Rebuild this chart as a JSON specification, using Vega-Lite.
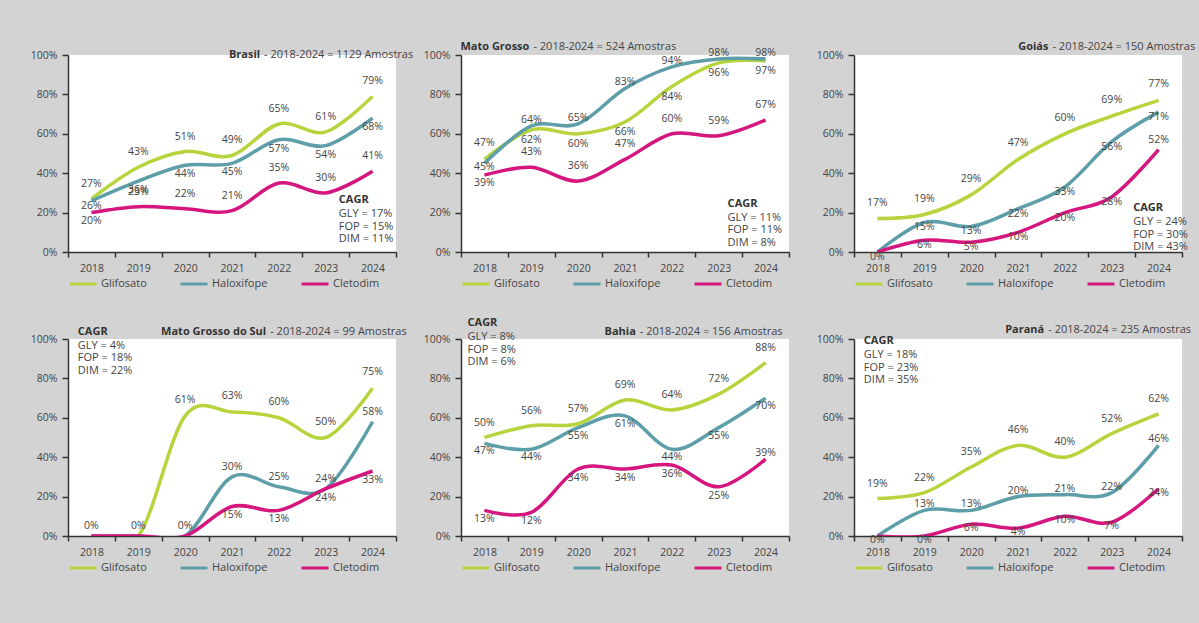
{
  "$schema": "https://vega.github.io/schema/vega-lite/v6.json",
  "background": "#d3d3d3",
  "padding": {"left": 30, "top": 41, "right": 5, "bottom": 50},
  "datasets": {
    "main": [
      {"r":"BR","s":"Glifosato","yr":"2018","v":0.27},{"r":"BR","s":"Glifosato","yr":"2019","v":0.43},{"r":"BR","s":"Glifosato","yr":"2020","v":0.51},{"r":"BR","s":"Glifosato","yr":"2021","v":0.49},{"r":"BR","s":"Glifosato","yr":"2022","v":0.65},{"r":"BR","s":"Glifosato","yr":"2023","v":0.61},{"r":"BR","s":"Glifosato","yr":"2024","v":0.79},
      {"r":"BR","s":"Haloxifope","yr":"2018","v":0.26},{"r":"BR","s":"Haloxifope","yr":"2019","v":0.36},{"r":"BR","s":"Haloxifope","yr":"2020","v":0.44},{"r":"BR","s":"Haloxifope","yr":"2021","v":0.45},{"r":"BR","s":"Haloxifope","yr":"2022","v":0.57},{"r":"BR","s":"Haloxifope","yr":"2023","v":0.54},{"r":"BR","s":"Haloxifope","yr":"2024","v":0.68},
      {"r":"BR","s":"Cletodim","yr":"2018","v":0.20},{"r":"BR","s":"Cletodim","yr":"2019","v":0.23},{"r":"BR","s":"Cletodim","yr":"2020","v":0.22},{"r":"BR","s":"Cletodim","yr":"2021","v":0.21},{"r":"BR","s":"Cletodim","yr":"2022","v":0.35},{"r":"BR","s":"Cletodim","yr":"2023","v":0.30},{"r":"BR","s":"Cletodim","yr":"2024","v":0.41},
      {"r":"MT","s":"Glifosato","yr":"2018","v":0.47},{"r":"MT","s":"Glifosato","yr":"2019","v":0.62},{"r":"MT","s":"Glifosato","yr":"2020","v":0.60},{"r":"MT","s":"Glifosato","yr":"2021","v":0.66},{"r":"MT","s":"Glifosato","yr":"2022","v":0.84},{"r":"MT","s":"Glifosato","yr":"2023","v":0.96},{"r":"MT","s":"Glifosato","yr":"2024","v":0.97},
      {"r":"MT","s":"Haloxifope","yr":"2018","v":0.45},{"r":"MT","s":"Haloxifope","yr":"2019","v":0.64},{"r":"MT","s":"Haloxifope","yr":"2020","v":0.65},{"r":"MT","s":"Haloxifope","yr":"2021","v":0.83},{"r":"MT","s":"Haloxifope","yr":"2022","v":0.94},{"r":"MT","s":"Haloxifope","yr":"2023","v":0.98},{"r":"MT","s":"Haloxifope","yr":"2024","v":0.98},
      {"r":"MT","s":"Cletodim","yr":"2018","v":0.39},{"r":"MT","s":"Cletodim","yr":"2019","v":0.43},{"r":"MT","s":"Cletodim","yr":"2020","v":0.36},{"r":"MT","s":"Cletodim","yr":"2021","v":0.47},{"r":"MT","s":"Cletodim","yr":"2022","v":0.60},{"r":"MT","s":"Cletodim","yr":"2023","v":0.59},{"r":"MT","s":"Cletodim","yr":"2024","v":0.67},
      {"r":"GO","s":"Glifosato","yr":"2018","v":0.17},{"r":"GO","s":"Glifosato","yr":"2019","v":0.19},{"r":"GO","s":"Glifosato","yr":"2020","v":0.29},{"r":"GO","s":"Glifosato","yr":"2021","v":0.47},{"r":"GO","s":"Glifosato","yr":"2022","v":0.60},{"r":"GO","s":"Glifosato","yr":"2023","v":0.69},{"r":"GO","s":"Glifosato","yr":"2024","v":0.77},
      {"r":"GO","s":"Haloxifope","yr":"2018","v":0.0},{"r":"GO","s":"Haloxifope","yr":"2019","v":0.15},{"r":"GO","s":"Haloxifope","yr":"2020","v":0.13},{"r":"GO","s":"Haloxifope","yr":"2021","v":0.22},{"r":"GO","s":"Haloxifope","yr":"2022","v":0.33},{"r":"GO","s":"Haloxifope","yr":"2023","v":0.56},{"r":"GO","s":"Haloxifope","yr":"2024","v":0.71},
      {"r":"GO","s":"Cletodim","yr":"2018","v":0.0},{"r":"GO","s":"Cletodim","yr":"2019","v":0.06},{"r":"GO","s":"Cletodim","yr":"2020","v":0.05},{"r":"GO","s":"Cletodim","yr":"2021","v":0.10},{"r":"GO","s":"Cletodim","yr":"2022","v":0.20},{"r":"GO","s":"Cletodim","yr":"2023","v":0.28},{"r":"GO","s":"Cletodim","yr":"2024","v":0.52},
      {"r":"MS","s":"Glifosato","yr":"2018","v":0.0},{"r":"MS","s":"Glifosato","yr":"2019","v":0.0},{"r":"MS","s":"Glifosato","yr":"2020","v":0.61},{"r":"MS","s":"Glifosato","yr":"2021","v":0.63},{"r":"MS","s":"Glifosato","yr":"2022","v":0.60},{"r":"MS","s":"Glifosato","yr":"2023","v":0.50},{"r":"MS","s":"Glifosato","yr":"2024","v":0.75},
      {"r":"MS","s":"Haloxifope","yr":"2018","v":0.0},{"r":"MS","s":"Haloxifope","yr":"2019","v":0.0},{"r":"MS","s":"Haloxifope","yr":"2020","v":0.0},{"r":"MS","s":"Haloxifope","yr":"2021","v":0.30},{"r":"MS","s":"Haloxifope","yr":"2022","v":0.25},{"r":"MS","s":"Haloxifope","yr":"2023","v":0.24},{"r":"MS","s":"Haloxifope","yr":"2024","v":0.58},
      {"r":"MS","s":"Cletodim","yr":"2018","v":0.0},{"r":"MS","s":"Cletodim","yr":"2019","v":0.0},{"r":"MS","s":"Cletodim","yr":"2020","v":0.0},{"r":"MS","s":"Cletodim","yr":"2021","v":0.15},{"r":"MS","s":"Cletodim","yr":"2022","v":0.13},{"r":"MS","s":"Cletodim","yr":"2023","v":0.24},{"r":"MS","s":"Cletodim","yr":"2024","v":0.33},
      {"r":"BA","s":"Glifosato","yr":"2018","v":0.50},{"r":"BA","s":"Glifosato","yr":"2019","v":0.56},{"r":"BA","s":"Glifosato","yr":"2020","v":0.57},{"r":"BA","s":"Glifosato","yr":"2021","v":0.69},{"r":"BA","s":"Glifosato","yr":"2022","v":0.64},{"r":"BA","s":"Glifosato","yr":"2023","v":0.72},{"r":"BA","s":"Glifosato","yr":"2024","v":0.88},
      {"r":"BA","s":"Haloxifope","yr":"2018","v":0.47},{"r":"BA","s":"Haloxifope","yr":"2019","v":0.44},{"r":"BA","s":"Haloxifope","yr":"2020","v":0.55},{"r":"BA","s":"Haloxifope","yr":"2021","v":0.61},{"r":"BA","s":"Haloxifope","yr":"2022","v":0.44},{"r":"BA","s":"Haloxifope","yr":"2023","v":0.55},{"r":"BA","s":"Haloxifope","yr":"2024","v":0.70},
      {"r":"BA","s":"Cletodim","yr":"2018","v":0.13},{"r":"BA","s":"Cletodim","yr":"2019","v":0.12},{"r":"BA","s":"Cletodim","yr":"2020","v":0.34},{"r":"BA","s":"Cletodim","yr":"2021","v":0.34},{"r":"BA","s":"Cletodim","yr":"2022","v":0.36},{"r":"BA","s":"Cletodim","yr":"2023","v":0.25},{"r":"BA","s":"Cletodim","yr":"2024","v":0.39},
      {"r":"PR","s":"Glifosato","yr":"2018","v":0.19},{"r":"PR","s":"Glifosato","yr":"2019","v":0.22},{"r":"PR","s":"Glifosato","yr":"2020","v":0.35},{"r":"PR","s":"Glifosato","yr":"2021","v":0.46},{"r":"PR","s":"Glifosato","yr":"2022","v":0.40},{"r":"PR","s":"Glifosato","yr":"2023","v":0.52},{"r":"PR","s":"Glifosato","yr":"2024","v":0.62},
      {"r":"PR","s":"Haloxifope","yr":"2018","v":0.0},{"r":"PR","s":"Haloxifope","yr":"2019","v":0.13},{"r":"PR","s":"Haloxifope","yr":"2020","v":0.13},{"r":"PR","s":"Haloxifope","yr":"2021","v":0.20},{"r":"PR","s":"Haloxifope","yr":"2022","v":0.21},{"r":"PR","s":"Haloxifope","yr":"2023","v":0.22},{"r":"PR","s":"Haloxifope","yr":"2024","v":0.46},
      {"r":"PR","s":"Cletodim","yr":"2018","v":0.0},{"r":"PR","s":"Cletodim","yr":"2019","v":0.0},{"r":"PR","s":"Cletodim","yr":"2020","v":0.06},{"r":"PR","s":"Cletodim","yr":"2021","v":0.04},{"r":"PR","s":"Cletodim","yr":"2022","v":0.10},{"r":"PR","s":"Cletodim","yr":"2023","v":0.07},{"r":"PR","s":"Cletodim","yr":"2024","v":0.24}
    ],
    "notes": [
      {"r":"BR","t":"Brasil","sub":"- 2018-2024 = 1129 Amostras","c":"GLY = 17%|FOP = 15%|DIM = 11%"},
      {"r":"MT","t":"Mato Grosso","sub":"- 2018-2024 = 524 Amostras","c":"GLY = 11%|FOP = 11%|DIM = 8%"},
      {"r":"GO","t":"Goiás","sub":"- 2018-2024 = 150 Amostras","c":"GLY = 24%|FOP = 30%|DIM = 43%"},
      {"r":"MS","t":"Mato Grosso do Sul","sub":"- 2018-2024 = 99 Amostras","c":"GLY = 4%|FOP = 18%|DIM = 22%"},
      {"r":"BA","t":"Bahia","sub":"- 2018-2024 = 156 Amostras","c":"GLY = 8%|FOP = 8%|DIM = 6%"},
      {"r":"PR","t":"Paraná","sub":"- 2018-2024 = 235 Amostras","c":"GLY = 18%|FOP = 23%|DIM = 35%"}
    ]
  },
  "columns": 3,
  "spacing": {"row": 87, "column": 65},
  "bounds": "flush",
  "resolve": {"scale": {"color": "independent"}, "legend": {"color": "independent"}},
  "concat": [
    {
      "width": 328, "height": 197,
      "data": {"name": "main"},
      "transform": [{"filter": "datum.r === 'BR'"}],
      "layer": [
        {"mark": {"type": "line", "interpolate": "cardinal", "strokeWidth": 3.5, "clip": true},
         "encoding": {
           "x": {"field": "yr", "type": "ordinal", "scale": {"type": "band", "paddingInner": 0, "paddingOuter": 0}, "axis": {"title": null, "tickBand": "extent"}},
           "y": {"field": "v", "type": "quantitative", "scale": {"domain": [0, 1]}, "axis": {"title": null, "format": ".0%", "values": [0, 0.2, 0.4, 0.6, 0.8, 1], "tickCount": 10, "labelOverlap": false}},
           "color": {"field": "s", "type": "nominal", "scale": {"domain": ["Glifosato", "Haloxifope", "Cletodim"], "range": ["#b6d43c", "#5d9ea8", "#d5167f"]}, "legend": {"orient": "bottom", "direction": "horizontal", "title": null}}}},
        {"mark": {"type": "text", "dy": {"expr": "datum.s === 'Glifosato' ? -15 : datum.s === 'Haloxifope' ? (datum.yr === '2018' ? 5 : 9) : (datum.yr === '2018' ? 8 : -15)"}},
         "encoding": {
           "x": {"field": "yr", "type": "ordinal"},
           "y": {"field": "v", "type": "quantitative"},
           "text": {"field": "v", "type": "quantitative", "format": ".0%"}}},
        {"data": {"name": "notes"}, "transform": [{"filter": "datum.r === 'BR'"}],
         "layer": [
           {"mark": {"type": "text", "align": "right", "fontWeight": "bold", "fontSize": 11, "color": "#333"},
            "encoding": {"x": {"datum": "2022", "type": "ordinal", "bandPosition": 0.1}, "y": {"datum": 1, "type": "quantitative"}, "text": {"field": "t"}}},
           {"mark": {"type": "text", "align": "left", "fontSize": 11, "color": "#444", "dx": 4},
            "encoding": {"x": {"datum": "2022", "type": "ordinal", "bandPosition": 0.1}, "y": {"datum": 1, "type": "quantitative"}, "text": {"field": "sub"}}},
           {"mark": {"type": "text", "align": "left", "fontWeight": "bold", "fontSize": 11, "color": "#333"},
            "encoding": {"x": {"datum": "2023", "type": "ordinal", "bandPosition": 0.78}, "y": {"datum": 0.263, "type": "quantitative"}, "text": {"value": "CAGR"}}},
           {"mark": {"type": "text", "align": "left", "baseline": "top", "fontSize": 11, "color": "#444", "lineBreak": "|", "lineHeight": 12.5, "dy": 8},
            "encoding": {"x": {"datum": "2023", "type": "ordinal", "bandPosition": 0.78}, "y": {"datum": 0.263, "type": "quantitative"}, "text": {"field": "c"}}}
         ]}
      ]
    },
    {
      "width": 328, "height": 197,
      "data": {"name": "main"},
      "transform": [{"filter": "datum.r === 'MT'"}],
      "layer": [
        {"mark": {"type": "line", "interpolate": "cardinal", "strokeWidth": 3.5, "clip": true},
         "encoding": {
           "x": {"field": "yr", "type": "ordinal", "scale": {"type": "band", "paddingInner": 0, "paddingOuter": 0}, "axis": {"title": null, "tickBand": "extent"}},
           "y": {"field": "v", "type": "quantitative", "scale": {"domain": [0, 1]}, "axis": {"title": null, "format": ".0%", "values": [0, 0.2, 0.4, 0.6, 0.8, 1], "tickCount": 10, "labelOverlap": false}},
           "color": {"field": "s", "type": "nominal", "scale": {"domain": ["Glifosato", "Haloxifope", "Cletodim"], "range": ["#b6d43c", "#5d9ea8", "#d5167f"]}, "legend": {"orient": "bottom", "direction": "horizontal", "title": null}}}},
        {"mark": {"type": "text", "dy": {"expr": "datum.s === 'Glifosato' ? (datum.yr === '2018' ? -16 : 10) : datum.s === 'Haloxifope' ? (datum.yr === '2018' ? 4 : -6) : (datum.yr === '2018' ? 8 : -15)"}},
         "encoding": {
           "x": {"field": "yr", "type": "ordinal"},
           "y": {"field": "v", "type": "quantitative"},
           "text": {"field": "v", "type": "quantitative", "format": ".0%"}}},
        {"data": {"name": "notes"}, "transform": [{"filter": "datum.r === 'MT'"}],
         "layer": [
           {"mark": {"type": "text", "align": "right", "fontWeight": "bold", "fontSize": 11, "color": "#333", "dy": -8},
            "encoding": {"x": {"datum": "2019", "type": "ordinal", "bandPosition": 0.46}, "y": {"datum": 1, "type": "quantitative"}, "text": {"field": "t"}}},
           {"mark": {"type": "text", "align": "left", "fontSize": 11, "color": "#444", "dx": 4, "dy": -8},
            "encoding": {"x": {"datum": "2019", "type": "ordinal", "bandPosition": 0.46}, "y": {"datum": 1, "type": "quantitative"}, "text": {"field": "sub"}}},
           {"mark": {"type": "text", "align": "left", "fontWeight": "bold", "fontSize": 11, "color": "#333"},
            "encoding": {"x": {"datum": "2023", "type": "ordinal", "bandPosition": 0.69}, "y": {"datum": 0.245, "type": "quantitative"}, "text": {"value": "CAGR"}}},
           {"mark": {"type": "text", "align": "left", "baseline": "top", "fontSize": 11, "color": "#444", "lineBreak": "|", "lineHeight": 12.5, "dy": 8},
            "encoding": {"x": {"datum": "2023", "type": "ordinal", "bandPosition": 0.69}, "y": {"datum": 0.245, "type": "quantitative"}, "text": {"field": "c"}}}
         ]}
      ]
    },
    {
      "width": 328, "height": 197,
      "data": {"name": "main"},
      "transform": [{"filter": "datum.r === 'GO'"}],
      "layer": [
        {"mark": {"type": "line", "interpolate": "cardinal", "strokeWidth": 3.5, "clip": true},
         "encoding": {
           "x": {"field": "yr", "type": "ordinal", "scale": {"type": "band", "paddingInner": 0, "paddingOuter": 0}, "axis": {"title": null, "tickBand": "extent"}},
           "y": {"field": "v", "type": "quantitative", "scale": {"domain": [0, 1]}, "axis": {"title": null, "format": ".0%", "values": [0, 0.2, 0.4, 0.6, 0.8, 1], "tickCount": 10, "labelOverlap": false}},
           "color": {"field": "s", "type": "nominal", "scale": {"domain": ["Glifosato", "Haloxifope", "Cletodim"], "range": ["#b6d43c", "#5d9ea8", "#d5167f"]}, "legend": {"orient": "bottom", "direction": "horizontal", "title": null}}}},
        {"transform": [{"filter": "!(datum.s === 'Haloxifope' && datum.v === 0)"}],
         "mark": {"type": "text", "dy": {"expr": "datum.s === 'Glifosato' ? -16 : datum.s === 'Haloxifope' ? 5 : (datum.yr === '2024' ? -10 : 5)"}},
         "encoding": {
           "x": {"field": "yr", "type": "ordinal"},
           "y": {"field": "v", "type": "quantitative"},
           "text": {"field": "v", "type": "quantitative", "format": ".0%"}}},
        {"data": {"name": "notes"}, "transform": [{"filter": "datum.r === 'GO'"}],
         "layer": [
           {"mark": {"type": "text", "align": "right", "fontWeight": "bold", "fontSize": 11, "color": "#333", "dy": -8},
            "encoding": {"x": {"datum": "2022", "type": "ordinal", "bandPosition": 0.15}, "y": {"datum": 1, "type": "quantitative"}, "text": {"field": "t"}}},
           {"mark": {"type": "text", "align": "left", "fontSize": 11, "color": "#444", "dx": 4, "dy": -8},
            "encoding": {"x": {"datum": "2022", "type": "ordinal", "bandPosition": 0.15}, "y": {"datum": 1, "type": "quantitative"}, "text": {"field": "sub"}}},
           {"mark": {"type": "text", "align": "left", "fontWeight": "bold", "fontSize": 11, "color": "#333"},
            "encoding": {"x": {"datum": "2023", "type": "ordinal", "bandPosition": 0.96}, "y": {"datum": 0.223, "type": "quantitative"}, "text": {"value": "CAGR"}}},
           {"mark": {"type": "text", "align": "left", "baseline": "top", "fontSize": 11, "color": "#444", "lineBreak": "|", "lineHeight": 12.5, "dy": 8},
            "encoding": {"x": {"datum": "2023", "type": "ordinal", "bandPosition": 0.96}, "y": {"datum": 0.223, "type": "quantitative"}, "text": {"field": "c"}}}
         ]}
      ]
    },
    {
      "width": 328, "height": 197,
      "data": {"name": "main"},
      "transform": [{"filter": "datum.r === 'MS'"}],
      "layer": [
        {"mark": {"type": "line", "interpolate": "cardinal", "strokeWidth": 3.5, "clip": true},
         "encoding": {
           "x": {"field": "yr", "type": "ordinal", "scale": {"type": "band", "paddingInner": 0, "paddingOuter": 0}, "axis": {"title": null, "tickBand": "extent"}},
           "y": {"field": "v", "type": "quantitative", "scale": {"domain": [0, 1]}, "axis": {"title": null, "format": ".0%", "values": [0, 0.2, 0.4, 0.6, 0.8, 1], "tickCount": 10, "labelOverlap": false}},
           "color": {"field": "s", "type": "nominal", "scale": {"domain": ["Glifosato", "Haloxifope", "Cletodim"], "range": ["#b6d43c", "#5d9ea8", "#d5167f"]}, "legend": {"orient": "bottom", "direction": "horizontal", "title": null}}}},
        {"transform": [{"filter": "!(datum.v === 0 && datum.s !== 'Haloxifope')"}],
         "mark": {"type": "text", "dy": {"expr": "datum.s === 'Glifosato' ? -16 : datum.s === 'Haloxifope' ? -10 : 9"}},
         "encoding": {
           "x": {"field": "yr", "type": "ordinal"},
           "y": {"field": "v", "type": "quantitative"},
           "text": {"field": "v", "type": "quantitative", "format": ".0%"}}},
        {"data": {"name": "notes"}, "transform": [{"filter": "datum.r === 'MS'"}],
         "layer": [
           {"mark": {"type": "text", "align": "right", "fontWeight": "bold", "fontSize": 11, "color": "#333", "dy": -7},
            "encoding": {"x": {"datum": "2022", "type": "ordinal", "bandPosition": 0.23}, "y": {"datum": 1, "type": "quantitative"}, "text": {"field": "t"}}},
           {"mark": {"type": "text", "align": "left", "fontSize": 11, "color": "#444", "dx": 4, "dy": -7},
            "encoding": {"x": {"datum": "2022", "type": "ordinal", "bandPosition": 0.23}, "y": {"datum": 1, "type": "quantitative"}, "text": {"field": "sub"}}},
           {"mark": {"type": "text", "align": "left", "fontWeight": "bold", "fontSize": 11, "color": "#333"},
            "encoding": {"x": {"datum": "2018", "type": "ordinal", "bandPosition": 0.21}, "y": {"datum": 1.038, "type": "quantitative"}, "text": {"value": "CAGR"}}},
           {"mark": {"type": "text", "align": "left", "baseline": "top", "fontSize": 11, "color": "#444", "lineBreak": "|", "lineHeight": 12.5, "dy": 8},
            "encoding": {"x": {"datum": "2018", "type": "ordinal", "bandPosition": 0.21}, "y": {"datum": 1.038, "type": "quantitative"}, "text": {"field": "c"}}}
         ]}
      ]
    },
    {
      "width": 328, "height": 197,
      "data": {"name": "main"},
      "transform": [{"filter": "datum.r === 'BA'"}],
      "layer": [
        {"mark": {"type": "line", "interpolate": "cardinal", "strokeWidth": 3.5, "clip": true},
         "encoding": {
           "x": {"field": "yr", "type": "ordinal", "scale": {"type": "band", "paddingInner": 0, "paddingOuter": 0}, "axis": {"title": null, "tickBand": "extent"}},
           "y": {"field": "v", "type": "quantitative", "scale": {"domain": [0, 1]}, "axis": {"title": null, "format": ".0%", "values": [0, 0.2, 0.4, 0.6, 0.8, 1], "tickCount": 10, "labelOverlap": false}},
           "color": {"field": "s", "type": "nominal", "scale": {"domain": ["Glifosato", "Haloxifope", "Cletodim"], "range": ["#b6d43c", "#5d9ea8", "#d5167f"]}, "legend": {"orient": "bottom", "direction": "horizontal", "title": null}}}},
        {"mark": {"type": "text", "dy": {"expr": "datum.s === 'Glifosato' ? -15 : datum.s === 'Haloxifope' ? 8 : (datum.yr === '2024' ? -6 : 9)"}},
         "encoding": {
           "x": {"field": "yr", "type": "ordinal"},
           "y": {"field": "v", "type": "quantitative"},
           "text": {"field": "v", "type": "quantitative", "format": ".0%"}}},
        {"data": {"name": "notes"}, "transform": [{"filter": "datum.r === 'BA'"}],
         "layer": [
           {"mark": {"type": "text", "align": "right", "fontWeight": "bold", "fontSize": 11, "color": "#333", "dy": -7},
            "encoding": {"x": {"datum": "2021", "type": "ordinal", "bandPosition": 0.73}, "y": {"datum": 1, "type": "quantitative"}, "text": {"field": "t"}}},
           {"mark": {"type": "text", "align": "left", "fontSize": 11, "color": "#444", "dx": 4, "dy": -7},
            "encoding": {"x": {"datum": "2021", "type": "ordinal", "bandPosition": 0.73}, "y": {"datum": 1, "type": "quantitative"}, "text": {"field": "sub"}}},
           {"mark": {"type": "text", "align": "left", "fontWeight": "bold", "fontSize": 11, "color": "#333"},
            "encoding": {"x": {"datum": "2018", "type": "ordinal", "bandPosition": 0.14}, "y": {"datum": 1.081, "type": "quantitative"}, "text": {"value": "CAGR"}}},
           {"mark": {"type": "text", "align": "left", "baseline": "top", "fontSize": 11, "color": "#444", "lineBreak": "|", "lineHeight": 12.5, "dy": 8},
            "encoding": {"x": {"datum": "2018", "type": "ordinal", "bandPosition": 0.14}, "y": {"datum": 1.081, "type": "quantitative"}, "text": {"field": "c"}}}
         ]}
      ]
    },
    {
      "width": 328, "height": 197,
      "data": {"name": "main"},
      "transform": [{"filter": "datum.r === 'PR'"}],
      "layer": [
        {"mark": {"type": "line", "interpolate": "cardinal", "strokeWidth": 3.5, "clip": true},
         "encoding": {
           "x": {"field": "yr", "type": "ordinal", "scale": {"type": "band", "paddingInner": 0, "paddingOuter": 0}, "axis": {"title": null, "tickBand": "extent"}},
           "y": {"field": "v", "type": "quantitative", "scale": {"domain": [0, 1]}, "axis": {"title": null, "format": ".0%", "values": [0, 0.2, 0.4, 0.6, 0.8, 1], "tickCount": 10, "labelOverlap": false}},
           "color": {"field": "s", "type": "nominal", "scale": {"domain": ["Glifosato", "Haloxifope", "Cletodim"], "range": ["#b6d43c", "#5d9ea8", "#d5167f"]}, "legend": {"orient": "bottom", "direction": "horizontal", "title": null}}}},
        {"transform": [{"filter": "!(datum.v === 0 && datum.s === 'Haloxifope')"}],
         "mark": {"type": "text", "dy": {"expr": "datum.s === 'Glifosato' ? -15 : datum.s === 'Haloxifope' ? -6 : 4"}},
         "encoding": {
           "x": {"field": "yr", "type": "ordinal"},
           "y": {"field": "v", "type": "quantitative"},
           "text": {"field": "v", "type": "quantitative", "format": ".0%"}}},
        {"data": {"name": "notes"}, "transform": [{"filter": "datum.r === 'PR'"}],
         "layer": [
           {"mark": {"type": "text", "align": "right", "fontWeight": "bold", "fontSize": 11, "color": "#333", "dy": -9},
            "encoding": {"x": {"datum": "2022", "type": "ordinal", "bandPosition": 0.06}, "y": {"datum": 1, "type": "quantitative"}, "text": {"field": "t"}}},
           {"mark": {"type": "text", "align": "left", "fontSize": 11, "color": "#444", "dx": 4, "dy": -9},
            "encoding": {"x": {"datum": "2022", "type": "ordinal", "bandPosition": 0.06}, "y": {"datum": 1, "type": "quantitative"}, "text": {"field": "sub"}}},
           {"mark": {"type": "text", "align": "left", "fontWeight": "bold", "fontSize": 11, "color": "#333"},
            "encoding": {"x": {"datum": "2018", "type": "ordinal", "bandPosition": 0.21}, "y": {"datum": 0.988, "type": "quantitative"}, "text": {"value": "CAGR"}}},
           {"mark": {"type": "text", "align": "left", "baseline": "top", "fontSize": 11, "color": "#444", "lineBreak": "|", "lineHeight": 12.5, "dy": 8},
            "encoding": {"x": {"datum": "2018", "type": "ordinal", "bandPosition": 0.21}, "y": {"datum": 0.988, "type": "quantitative"}, "text": {"field": "c"}}}
         ]}
      ]
    }
  ],
  "config": {
    "font": "Open Sans",
    "view": {"fill": "white", "stroke": null},
    "text": {"fontSize": 10.5, "color": "#444"},
    "axis": {"domainColor": "#333", "tickColor": "#333", "domainWidth": 1.5, "tickWidth": 1.5, "labelColor": "#444", "labelFontSize": 10.5, "grid": false},
    "axisY": {"tickSize": 6, "labelPadding": 5, "labelOverlap": false},
    "axisX": {"tickSize": 5, "labelPadding": 6, "labelAngle": 0},
    "legend": {"symbolType": "stroke", "symbolStrokeWidth": 3, "symbolSize": 729, "labelFontSize": 11, "labelColor": "#444", "columnPadding": 27, "labelOffset": 3, "offset": -5, "padding": 0}
  }
}
